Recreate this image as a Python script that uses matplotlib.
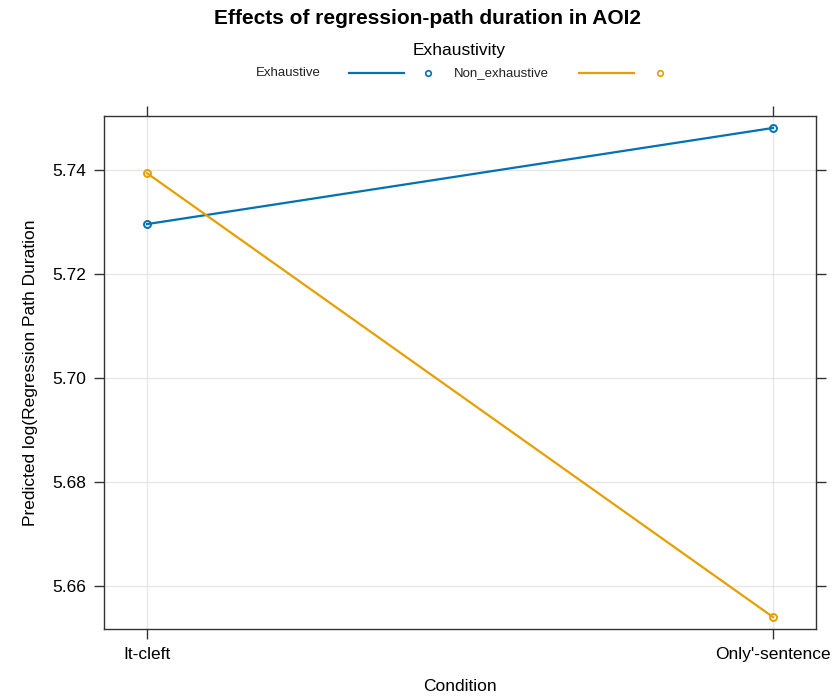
import matplotlib
matplotlib.use("Agg")
import matplotlib.pyplot as plt
from matplotlib.lines import Line2D

plt.rcParams['font.family'] = ['Liberation Sans', 'DejaVu Sans']

conditions = ["It-cleft", "Only'-sentence"]
exhaustive = [5.7296, 5.7481]
non_exhaustive = [5.7394, 5.6540]
yticks = [5.66, 5.68, 5.70, 5.72, 5.74]
blue = "#0072B2"
orange = "#E69F00"

fig = plt.figure(figsize=(8.38, 7), dpi=100)
ax = fig.add_axes([104/838, 1-629/700, 712/838, 513/700])

x = list(range(len(conditions)))
ax.plot(x, exhaustive, color=blue, lw=1.6, marker="o", ms=5, mfc="none", mew=1.4, zorder=3)
ax.plot(x, non_exhaustive, color=orange, lw=1.6, marker="o", ms=5, mfc="none", mew=1.4, zorder=3)

ax.set_xlim(-0.0687, 1.0687)
ax.set_ylim(5.6517, 5.7504)
ax.set_xticks(x)
ax.set_xticklabels(conditions)
ax.set_yticks(yticks)
ax.set_yticklabels([f"{v:.2f}" for v in yticks])
ax.grid(True, color="#e6e6e6", lw=1)
ax.set_axisbelow(True)
for s in ax.spines.values():
    s.set_color("#333333")
    s.set_linewidth(1)
ax.tick_params(direction="out", length=7, width=1, color="#333333", labelsize=12.5,
               top=True, right=True, labeltop=False, labelright=False, pad=6)
ax.set_xlabel("Condition", fontsize=12.5, labelpad=12)
ax.set_ylabel("Predicted log(Regression Path Duration", fontsize=12.5, labelpad=10)

fig.text(428/838, 1-18/700, "Effects of regression-path duration in AOI2",
         ha="center", va="center", fontsize=15, fontweight="bold")
fig.text(459/838, 1-50/700, "Exhaustivity", ha="center", va="center", fontsize=12.5)

ly = 1-73/700
fig.text(256/838, ly, "Exhaustive", ha="left", va="center", fontsize=9.5, color="#222222")
fig.text(454/838, ly, "Non_exhaustive", ha="left", va="center", fontsize=9.5, color="#222222")
for (x0, x1, xc, col) in [(349, 404, 428, blue), (579, 634, 660, orange)]:
    fig.add_artist(Line2D([x0/838, x1/838], [ly, ly], color=col, lw=1.6, transform=fig.transFigure))
    fig.add_artist(Line2D([xc/838], [ly], color=col, marker="o", ms=4, mfc="none", mew=1.2,
                          lw=0, transform=fig.transFigure))

fig.savefig("out.png", dpi=100)
